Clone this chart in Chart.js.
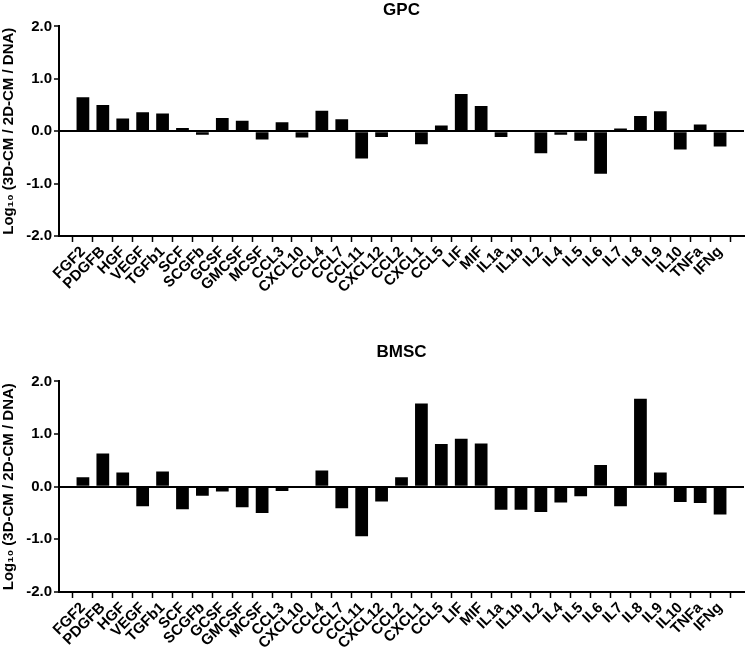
<!DOCTYPE html>
<html>
<head>
<meta charset="utf-8">
<script src="https://cdn.jsdelivr.net/npm/chart.js@4.4.0/dist/chart.umd.min.js"></script>
<style>
  html, body { margin: 0; padding: 0; background: #fff; }
  #wrap { position: relative; width: 746px; height: 651px; overflow: hidden; }
  canvas { position: absolute; left: 0; }
  #gpcChart { top: 0; }
  #bmscChart { top: 310px; }
</style>
</head>
<body>
<div id="wrap">
  <canvas id="gpcChart" width="746" height="310"></canvas>
  <canvas id="bmscChart" width="746" height="341"></canvas>
</div>
<script>
// cytokine names on the x axis
const cytokines = ["FGF2", "PDGFB", "HGF", "VEGF", "TGFb1", "SCF", "SCGFb", "GCSF", "GMCSF", "MCSF",
  "CCL3", "CXCL10", "CCL4", "CCL7", "CCL11", "CXCL12", "CCL2", "CXCL1", "CCL5", "LIF", "MIF",
  "IL1a", "IL1b", "IL2", "IL4", "IL5", "IL6", "IL7", "IL8", "IL9", "IL10", "TNFa", "IFNg"];

// log10 (3D-CM / 2D-CM / DNA)
const gpcValues = [0.65, 0.50, 0.24, 0.36, 0.34, 0.06, -0.07, 0.25, 0.20, -0.16,
  0.17, -0.12, 0.39, 0.23, -0.52, -0.11, 0.02, -0.25, 0.11, 0.71, 0.48,
  -0.11, 0, -0.42, -0.07, -0.18, -0.81, 0.05, 0.29, 0.38, -0.35, 0.13, -0.29];

const bmscValues = [0.18, 0.63, 0.27, -0.37, 0.29, -0.43, -0.17, -0.09, -0.39, -0.50,
  -0.08, 0, 0.31, -0.41, -0.94, -0.28, 0.18, 1.58, 0.81, 0.91, 0.82,
  -0.44, -0.44, -0.48, -0.30, -0.18, 0.41, -0.37, 1.67, 0.27, -0.29, -0.31, -0.53];

const yTicks = [-2, -1, 0, 1, 2];

const FONT = "'Liberation Sans', Arial, Helvetica, sans-serif";

/* build one panel */
function makePanel(canvasId, title, values, opts) {
  const ctx = document.getElementById(canvasId).getContext("2d");
  return new Chart(ctx, {
    type: "bar",
    data: {
      datasets: [{
        data: values.map((v, i) => ({ x: i, y: v })),
        backgroundColor: "#000",
        borderWidth: 0,
        categoryPercentage: 1,
        barPercentage: 0.64,
      }],
    },
    options: {
      responsive: false,
      animation: false,
      layout: { padding: { left: 0, right: 2, top: 0, bottom: 0 } },
      plugins: {
        legend: { display: false },
        tooltip: { enabled: false },
        title: {
          display: true,
          text: title,
          fullSize: false,
          color: "#000",
          font: { family: FONT, size: 17, weight: "bold" },
          padding: { top: opts.titleTop, bottom: opts.titleBottom },
        },
      },
      scales: {
        x: {
          type: "linear",
          min: -0.68,
          max: cytokines.length - 1 + 0.68,
          afterFit: (scale) => { scale.height = opts.xHeight; },
          border: { color: "#000", width: 2 },
          grid: { drawOnChartArea: false, tickLength: 6, tickColor: "#000", tickWidth: 1.5 },
          ticks: {
            stepSize: 1,
            includeBounds: false,
            autoSkip: false,
            maxTicksLimit: 100,
            maxRotation: 45,
            minRotation: 45,
            padding: 1,
            color: "#000",
            font: { family: FONT, size: 15, weight: "bold" },
            callback: (v) => (Number.isInteger(v) ? cytokines[v] : ""),
          },
        },
        y: {
          min: -2,
          max: 2,
          afterFit: (scale) => { scale.width = 59; },
          afterBuildTicks: (scale) => { scale.ticks = yTicks.map((v) => ({ value: v })); },
          border: { color: "#000", width: 2 },
          grid: {
            color: (c) => (c.tick && c.tick.value === 0 ? "#000" : "rgba(0,0,0,0)"),
            lineWidth: 2,
            tickColor: "#000",
            tickWidth: 1.5,
            tickLength: 5,
          },
          ticks: {
            padding: 2,
            color: "#000",
            font: { family: FONT, size: 15, weight: "bold" },
            callback: (v) => v.toFixed(1),
          },
          title: {
            display: true,
            text: "Log\u2081\u2080 (3D-CM / 2D-CM / DNA)",
            color: "#000",
            font: { family: FONT, size: 15, weight: "bold" },
            padding: { top: 0, bottom: 3 },
          },
        },
      },
    },
  });
}

makePanel("gpcChart", "GPC", gpcValues, { titleTop: 0, titleBottom: 6, xHeight: 74 });
makePanel("bmscChart", "BMSC", bmscValues, { titleTop: 32, titleBottom: 19, xHeight: 59 });
</script>
</body>
</html>
